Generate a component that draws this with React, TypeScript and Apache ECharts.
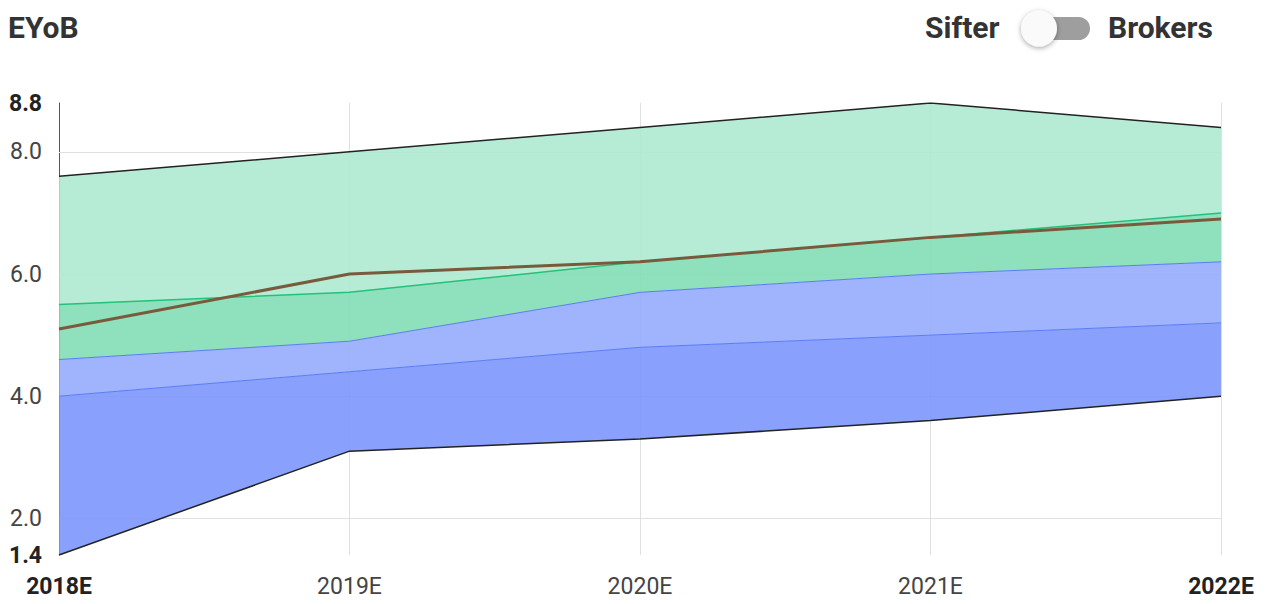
import React, { useEffect, useRef } from "react";
import * as echarts from "echarts";

const categories = ["2018E", "2019E", "2020E", "2021E", "2022E"];
const lowEstimate = [1.4, 3.1, 3.3, 3.6, 4.0];
const lowerQuartile = [4.0, 4.4, 4.8, 5.0, 5.2];
const median = [4.6, 4.9, 5.7, 6.0, 6.2];
const upperQuartile = [5.5, 5.7, 6.2, 6.6, 7.0];
const highEstimate = [7.6, 8.0, 8.4, 8.8, 8.4];
const sifterValue = [5.1, 6.0, 6.2, 6.6, 6.9];
const yMin = 1.4;
const yMax = 8.8;
const yGridValues = [2, 4, 6, 8];
const yLabels = [1.4, 2, 4, 6, 8, 8.8];

const diff = (a: number[], b: number[]) => a.map((v, i) => +(v - b[i]).toFixed(2));

export default function App() {
  const ref = useRef<HTMLDivElement>(null);
  useEffect(() => {
    if (!ref.current) return;
    const chart = echarts.init(ref.current, undefined, { renderer: "svg" });
    const font = "Roboto, Arial, sans-serif";
    const bandSeries = (name: string, data: number[], area: string | null, line: string, width: number) => ({
      name,
      type: "line",
      stack: "band",
      data,
      symbol: "none",
      silent: true,
      lineStyle: { color: line, width },
      areaStyle: area ? { color: area, opacity: 1 } : undefined,
      z: 2,
    });
    chart.setOption({
      animation: false,
      grid: { left: 59, right: 46, top: 103, bottom: 49 },
      graphic: [
        { type: "text", left: 8, top: 12, style: { text: "EYoB", font: `bold 30px ${font}`, fill: "#333" } },
        { type: "text", left: 925, top: 12, style: { text: "Sifter", font: `bold 30px ${font}`, fill: "#333" } },
        { type: "text", left: 1108, top: 12, style: { text: "Brokers", font: `bold 30px ${font}`, fill: "#333" } },
        { type: "rect", shape: { x: 1024, y: 17, width: 66, height: 23, r: 11.5 }, style: { fill: "#9e9e9e" } },
        {
          type: "circle",
          shape: { cx: 1039, cy: 28.5, r: 18 },
          style: { fill: "#fafafa", shadowBlur: 5, shadowColor: "rgba(0,0,0,0.35)", shadowOffsetY: 1.5 },
        },
      ],
      xAxis: {
        type: "category",
        data: categories,
        boundaryGap: false,
        axisLine: { show: false },
        axisTick: { show: false },
        axisLabel: {
          margin: 20,
          fontFamily: font,
          fontSize: 23,
          color: "#444",
          formatter: (v: string, i: number) => (i === 0 || i === categories.length - 1 ? `{b|${v}}` : v),
          rich: { b: { fontFamily: font, fontSize: 23, fontWeight: "bold", color: "#222" } },
        },
        splitLine: { show: true, lineStyle: { color: "#e0e0e0", width: 1 } },
      },
      yAxis: {
        type: "value",
        min: yMin,
        max: yMax,
        axisLine: { show: true, lineStyle: { color: "#555", width: 1 } },
        axisTick: { show: false },
        axisLabel: {
          margin: 17,
          customValues: yLabels,
          fontFamily: font,
          fontSize: 23,
          color: "#444",
          formatter: (v: number) =>
            Math.abs(v - yMin) < 1e-6 || Math.abs(v - yMax) < 1e-6 ? `{b|${v.toFixed(1)}}` : v.toFixed(1),
          rich: { b: { fontFamily: font, fontSize: 23, fontWeight: "bold", color: "#222" } },
        },
        splitLine: { show: false },
      },
      series: [
        {
          ...bandSeries("low", lowEstimate, null, "#222", 1.5),
          markLine: {
            silent: true,
            z: 1,
            symbol: "none",
            label: { show: false },
            lineStyle: { color: "#e0e0e0", width: 1, type: "solid" },
            data: yGridValues.map((v) => ({ yAxis: v })),
          },
        },
        bandSeries("lq", diff(lowerQuartile, lowEstimate), "rgba(121,148,252,0.88)", "#5a7cf6", 1),
        bandSeries("med", diff(median, lowerQuartile), "rgba(147,170,253,0.88)", "#5a7cf6", 1),
        bandSeries("uq", diff(upperQuartile, median), "rgba(128,220,179,0.88)", "#22c27a", 1.5),
        bandSeries("high", diff(highEstimate, upperQuartile), "rgba(172,233,208,0.88)", "#222", 1.5),
        {
          name: "Sifter",
          type: "line",
          data: sifterValue,
          symbol: "none",
          silent: true,
          lineStyle: { color: "#7a5a3c", width: 3 },
          z: 5,
        },
      ],
    });
    return () => chart.dispose();
  }, []);
  return <div ref={ref} style={{ width: 1267, height: 604, position: "absolute", left: 0, top: 0 }} />;
}
